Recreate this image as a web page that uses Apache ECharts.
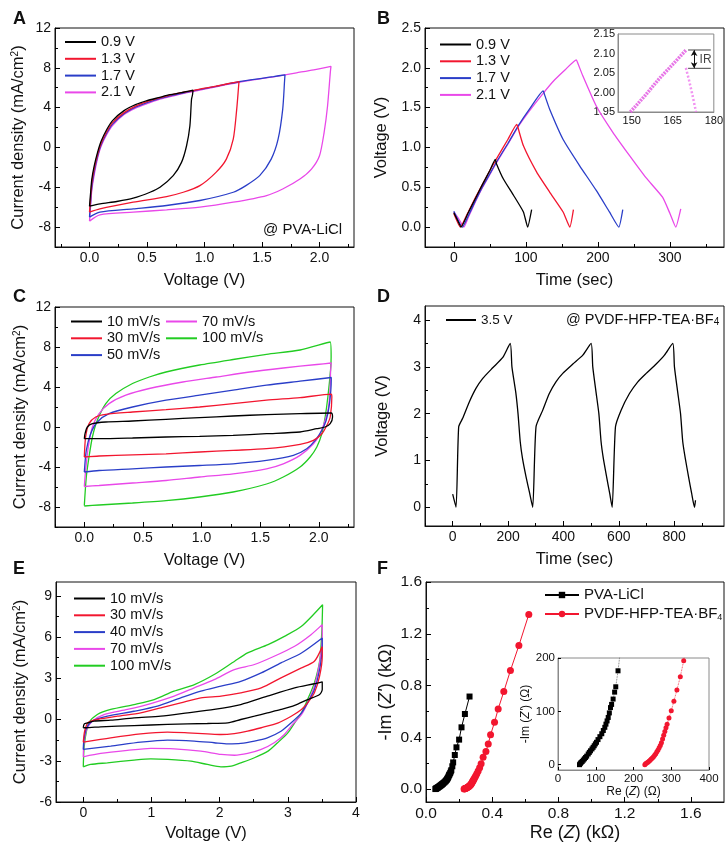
<!DOCTYPE html>
<html><head><meta charset="utf-8">
<style>html,body{margin:0;padding:0;background:#fff}#c{width:726px;height:850px}</style>
<script src="https://cdn.jsdelivr.net/npm/echarts@6/dist/echarts.min.js"></script>
</head><body><div id="c"></div>
<script>
// ---------- Panel A: CV at different voltage windows (PVA-LiCl) ----------
const aNames = ['0.9 V','1.3 V','1.7 V','2.1 V'];
const a09 = [[0,-5.9],[0.01,-4.5],[0.02,-3.2],[0.04,-1.9],[0.07,-0.5],[0.1,0.6],[0.15,1.8],[0.2,2.7],[0.3,3.7],[0.4,4.3],[0.5,4.7],[0.6,5.0],[0.7,5.3],[0.8,5.5],[0.9,5.75],
  [0.896,5.3],[0.887,4.83],[0.873,2.17],[0.844,0.17],[0.8,-1.5],[0.728,-2.83],[0.613,-4.0],[0.526,-4.5],[0.38,-5.1],[0.237,-5.43],[0.092,-5.67],[0,-5.9]];
const a13 = [[0,-6.5],[0.01,-5],[0.02,-3.6],[0.04,-2.2],[0.07,-0.7],[0.1,0.4],[0.15,1.6],[0.2,2.5],[0.3,3.5],[0.4,4.15],[0.5,4.6],[0.6,4.95],[0.7,5.25],[0.8,5.5],[0.9,5.72],[1.0,5.95],[1.1,6.15],[1.2,6.4],[1.3,6.62],
  [1.297,6.2],[1.28,3.83],[1.25,0.83],[1.19,-1.17],[1.1,-2.5],[0.96,-3.83],[0.815,-4.5],[0.67,-4.93],[0.38,-5.5],[0.09,-6.17],[0,-6.5]];
const a17 = [[0,-7.0],[0.01,-5.4],[0.02,-4],[0.04,-2.5],[0.07,-0.9],[0.1,0.25],[0.15,1.45],[0.2,2.35],[0.3,3.4],[0.4,4.05],[0.5,4.5],[0.6,4.88],[0.7,5.18],[0.8,5.44],[0.9,5.68],[1.0,5.92],[1.1,6.14],[1.2,6.38],[1.3,6.6],[1.4,6.78],[1.5,6.95],[1.6,7.12],[1.7,7.3],
  [1.697,6.83],[1.68,3.83],[1.64,0.83],[1.58,-1.17],[1.48,-2.83],[1.36,-3.83],[1.25,-4.5],[0.96,-5.33],[0.67,-5.83],[0.38,-6.17],[0.09,-6.5],[0,-7.0]];
const a21 = [[0,-7.4],[0.01,-5.8],[0.02,-4.3],[0.04,-2.8],[0.07,-1.1],[0.1,0.1],[0.15,1.3],[0.2,2.2],[0.3,3.3],[0.4,3.95],[0.5,4.4],[0.6,4.8],[0.7,5.1],[0.8,5.38],[0.9,5.62],[1.0,5.86],[1.2,6.33],[1.4,6.75],[1.6,7.1],[1.8,7.5],[1.95,7.8],[2.1,8.15],
  [2.095,7.67],[2.07,4.17],[2.04,1.5],[2.0,-0.83],[1.93,-2.17],[1.83,-3.17],[1.68,-4.17],[1.54,-4.83],[1.25,-5.5],[0.96,-6.0],[0.67,-6.27],[0.38,-6.5],[0.09,-6.77],[0,-7.4]];

// ---------- Panel B: GCD curves ----------
const b09 = [[0,0.18],[5,0.09],[10,0],[20,0.18],[30,0.36],[40,0.54],[50,0.71],[57.5,0.85],[59,0.8],[69,0.6],[82.8,0.4],[96.6,0.19],[102.5,0],[108,0.22]];
const b13 = [[0,0.17],[9,0],[20,0.19],[30,0.37],[40,0.54],[50,0.71],[60,0.87],[75,1.1],[87.4,1.29],[89,1.25],[96.6,1.02],[115,0.69],[133,0.44],[151.7,0.19],[161,0],[166,0.22]];
const b17 = [[0,0.2],[12,0],[20,0.14],[30,0.33],[40,0.51],[50,0.67],[60,0.83],[75,1.05],[90,1.28],[105,1.48],[124,1.71],[126,1.66],[133,1.48],[151.7,1.1],[174.7,0.77],[197.7,0.46],[216,0.19],[229,0],[234.5,0.22]];
const b21 = [[0,0.19],[7,0.1],[14,0],[20,0.12],[30,0.32],[40,0.5],[50,0.66],[60,0.82],[75,1.04],[90,1.27],[105,1.46],[124,1.68],[140,1.85],[155,1.98],[170,2.1],[172,2.06],[179,1.9],[197.7,1.52],[220.7,1.19],[243.7,0.9],[266.7,0.62],[289.7,0.375],[300,0.17],[308,0],[315,0.23]];
// inset (IR drop)
const bInsetCharge = [[149.5,1.95],[155,1.993],[160,2.035],[165,2.072],[170,2.11]];
const bInsetDischarge = [[169.8,2.063],[171,2.03],[172.3,1.99],[173.5,1.95]];
const irLevels = [2.109, 2.062];
const irSpan = [170.6, 178.9];
const irArrowX = 172.8;
const irLabelPos = [177.0, 2.085];

// ---------- Panel C: CV at different scan rates (PVA-LiCl) ----------
const cNames = ['10 mV/s','30 mV/s','50 mV/s','70 mV/s','100 mV/s'];
const c10 = [[0,-1.17],[0.006,-0.67],[0.026,0],[0.069,0.33],[0.183,0.5],[0.411,0.6],[0.697,0.77],[0.983,0.94],[1.269,1.1],[1.554,1.24],[1.84,1.34],[2.106,1.4],
  [2.117,1.0],[2.097,0.33],[2.054,0],[1.983,-0.17],[1.84,-0.5],[1.554,-0.67],[1.269,-0.84],[0.983,-0.94],[0.697,-1.0],[0.411,-1.1],[0.126,-1.17],[0,-1.17]];
const c30 = [[0,-3.0],[0.011,-1.0],[0.04,0.33],[0.097,1.0],[0.183,1.27],[0.411,1.5],[0.697,1.74],[0.983,2.0],[1.269,2.34],[1.554,2.68],[1.84,2.94],[2.106,3.28],
  [2.111,3.0],[2.097,1.0],[2.069,0.17],[2.026,-0.67],[1.954,-1.34],[1.84,-1.74],[1.554,-2.17],[1.269,-2.34],[0.983,-2.5],[0.697,-2.68],[0.411,-2.78],[0.126,-2.9],[0,-3.0]];
const c50 = [[0,-4.5],[0.017,-2.34],[0.054,-0.67],[0.111,0.5],[0.211,1.34],[0.411,2.0],[0.697,2.68],[0.983,3.18],[1.269,3.68],[1.554,4.18],[1.84,4.58],[2.106,4.95],
  [2.106,4.7],[2.091,2.34],[2.063,0.67],[2.026,-0.33],[1.969,-1.34],[1.897,-2.17],[1.783,-2.84],[1.554,-3.34],[1.269,-3.68],[0.983,-3.85],[0.697,-4.0],[0.411,-4.18],[0.126,-4.35],[0,-4.5]];
const c70 = [[0,-5.95],[0.011,-4.35],[0.034,-2.0],[0.069,0],[0.126,1.34],[0.211,2.34],[0.354,3.18],[0.554,3.85],[0.84,4.5],[1.126,5.0],[1.411,5.5],[1.697,5.9],[1.983,6.25],[2.106,6.4],
  [2.1,5.5],[2.097,4.0],[2.083,2.0],[2.054,0.67],[2.011,-0.67],[1.954,-1.67],[1.84,-2.84],[1.697,-3.68],[1.554,-4.18],[1.269,-4.68],[0.983,-5.0],[0.697,-5.35],[0.411,-5.6],[0.126,-5.85],[0,-5.95]];
const c100 = [[0,-7.86],[0.017,-5.0],[0.04,-3.0],[0.069,-1.0],[0.111,0.67],[0.183,2.34],[0.269,3.34],[0.411,4.35],[0.554,5.0],[0.697,5.5],[0.983,6.2],[1.269,6.75],[1.554,7.26],[1.84,7.7],[2.097,8.5],
  [2.105,7.0],[2.1,5.7],[2.077,3.0],[2.054,1.0],[2.026,-0.67],[1.983,-2.0],[1.926,-3.0],[1.84,-4.0],[1.697,-5.0],[1.554,-5.7],[1.269,-6.5],[0.983,-7.0],[0.697,-7.36],[0.411,-7.6],[0.126,-7.8],[0,-7.9]];

// ---------- Panel D: GCD at 3.5 V (PVDF-HFP-TEA·BF4) ----------
const d35 = [[0,0.28],[12,0],[21.7,1.72],[36,1.9],[60,2.25],[84,2.54],[108,2.75],[144.6,2.98],[181,3.2],[208,3.5],
  [214,3.0],[228,2.45],[236,2.0],[244,1.4],[252,1.05],[265,0.65],[278,0.3],[289,0],
  [301,1.72],[325,2.07],[349,2.43],[373,2.68],[397.6,2.86],[434,3.06],[470,3.25],[500,3.5],
  [506,3.0],[518,2.45],[528,2.0],[536,1.4],[544,1.05],[556,0.65],[567,0.3],[576,0],
  [588,1.72],[608,2.07],[638.5,2.43],[668.7,2.68],[699,2.86],[735,3.06],[765,3.25],[795,3.5],
  [801,3.0],[813,2.45],[823,2.0],[831,1.4],[840,1.05],[852,0.65],[863,0.3],[873.5,0],[877,0.15]];

// ---------- Panel E: CV at different scan rates (PVDF-HFP-TEA·BF4) ----------
const eNames = ['10 mV/s','30 mV/s','40 mV/s','70 mV/s','100 mV/s'];
const e10 = [[0,-0.6],[0.01,-0.36],[0.034,-0.29],[0.157,-0.12],[0.402,-0.05],[0.745,0.12],[1.137,0.24],[1.53,0.48],[1.92,0.73],[2.31,1.09],[2.7,1.7],[3.1,2.3],[3.39,2.6],[3.505,2.74],
  [3.505,2.18],[3.466,1.82],[3.29,1.45],[3.1,1.02],[2.9,0.73],[2.7,0.48],[2.51,0.24],[2.31,0],[2.12,-0.24],[1.82,-0.29],[1.235,-0.36],[0.745,-0.44],[0.255,-0.53],[0.034,-0.6],[0,-0.6]];
const e30 = [[0,-1.65],[0.02,-0.85],[0.069,-0.24],[0.206,0],[0.5,0.24],[0.843,0.48],[1.137,0.85],[1.43,1.21],[1.725,1.57],[2.02,1.7],[2.31,1.94],[2.61,2.3],[2.9,3.03],[3.2,3.75],[3.39,4.24],[3.505,5.3],
  [3.505,4.6],[3.466,3.15],[3.39,1.94],[3.29,1.21],[3.2,0.73],[3.05,0.24],[2.86,-0.24],[2.61,-0.6],[2.41,-0.85],[2.216,-1.02],[2.02,-1.09],[1.82,-1.04],[1.53,-0.97],[1.235,-0.92],[0.843,-1.04],[0.402,-1.33],[0,-1.65]];
const e40 = [[0,-2.18],[0.01,-1.45],[0.049,-0.6],[0.132,-0.12],[0.353,0.24],[0.745,0.6],[1.088,0.97],[1.43,1.57],[1.725,2.06],[2.02,2.42],[2.31,2.78],[2.61,3.39],[2.9,4.12],[3.2,4.84],[3.505,5.93],
  [3.505,5.33],[3.466,3.63],[3.39,2.18],[3.29,1.21],[3.2,0.48],[3.05,-0.24],[2.9,-0.85],[2.7,-1.33],[2.51,-1.57],[2.31,-1.74],[2.12,-1.77],[1.92,-1.69],[1.627,-1.57],[1.235,-1.5],[0.843,-1.65],[0.402,-1.94],[0,-2.18]];
const e70 = [[0,-2.71],[0.01,-1.7],[0.049,-0.73],[0.132,-0.12],[0.304,0.36],[0.647,0.73],[0.99,1.16],[1.333,1.7],[1.627,2.3],[1.92,2.9],[2.216,3.63],[2.51,4.0],[2.8,4.6],[3.1,5.33],[3.34,6.17],[3.505,6.9],
  [3.505,6.05],[3.466,4.12],[3.39,2.42],[3.29,1.21],[3.2,0.36],[3.07,-0.36],[2.95,-1.09],[2.8,-1.69],[2.61,-2.18],[2.41,-2.47],[2.216,-2.6],[2.02,-2.54],[1.725,-2.3],[1.333,-2.13],[0.99,-2.1],[0.647,-2.25],[0.255,-2.47],[0,-2.71]];
const e100 = [[0,-3.44],[0.01,-2.18],[0.034,-1.2],[0.083,-0.24],[0.206,0.36],[0.402,0.73],[0.745,1.09],[1.04,1.45],[1.33,2.06],[1.63,2.54],[1.92,3.27],[2.22,4.24],[2.41,4.84],[2.71,5.45],[2.95,6.05],[3.2,6.78],[3.51,8.35],
  [3.5,6.54],[3.47,4.36],[3.39,2.66],[3.29,1.45],[3.2,0.48],[3.1,-0.24],[3.0,-0.97],[2.85,-1.69],[2.71,-2.3],[2.51,-2.78],[2.31,-3.15],[2.17,-3.39],[2.02,-3.44],[1.82,-3.27],[1.58,-3.03],[1.24,-2.9],[0.99,-2.86],[0.745,-2.95],[0.353,-3.15],[0.108,-3.27],[0,-3.44]];

// ---------- Panel F: Nyquist plots ----------
const fNames = ['PVA-LiCl','PVDF-HFP-TEA·BF4'];
// low-frequency region (Ohm)
const fBlackLowOhm = [[57,0],[59,2],[61,4],[64,6],[67,8.5],[70,11],[73,13.5],[76,16],[80,20],[83,23],[86,26],[90,29.5],[93,32.5],[96,35.5],[99,39],[102,42],[106,47],[111,52.5],[116,58],[120,64],[124,70],[127,76],[130,82],[133,88.5],[136,97],[139,107],[142,113],[146,123],[150,136],[153,146],[159,176]];
const fRedLowOhm = [[230,0],[232,1.5],[235,3],[238,4.5],[241,6.5],[244,8.5],[247,10.5],[250,12.5],[253,15],[256,17.5],[259,20.5],[262,24],[265,27.5],[268,31.5],[271,36],[274,41],[277,48],[280,55],[283,62],[286,69],[289,76],[294,87.5],[300,101],[307,119],[315,140],[324,165],[333,195]];
// high values (kOhm)
const fBlackHigh = [[0.164,0.206],[0.174,0.263],[0.184,0.3225],[0.2,0.382],[0.2145,0.477],[0.235,0.58],[0.263,0.715]];
const fRedHigh = [[0.345,0.245],[0.362,0.29],[0.376,0.348],[0.39,0.42],[0.414,0.516],[0.436,0.619],[0.47,0.753],[0.51,0.916],[0.561,1.109],[0.621,1.349]];

// ---------- tick labels ----------
const tA = {x:[0,0.5,1,1.5,2], xm:[-0.25,0.25,0.75,1.25,1.75,2.25], y:[-8,-4,0,4,8,12], ym:[-10,-6,-2,2,6,10]};
const tB = {x:[0,100,200,300], xm:[50,150,250,350], y:[0,0.5,1,1.5,2,2.5], ym:[-0.25,0.25,0.75,1.25,1.75,2.25]};
const tBi = {x:[150,165,180], y:[1.95,2.00,2.05,2.10,2.15]};
const tD = {x:[0,200,400,600,800], xm:[-100,100,300,500,700,900], y:[0,1,2,3,4], ym:[0.5,1.5,2.5,3.5]};
const tE = {x:[0,1,2,3,4], xm:[0.5,1.5,2.5,3.5], y:[-6,-3,0,3,6,9], ym:[-4.5,-1.5,1.5,4.5,7.5]};
const tF = {x:[0,0.4,0.8,1.2,1.6], xm:[0.2,0.6,1.0,1.4], y:[0,0.4,0.8,1.2,1.6], ym:[0.2,0.6,1.0,1.4]};
const tFi = {x:[0,100,200,300,400], y:[0,100,200]};

// ---------- build ----------
const FONT = "'Liberation Sans', Arial, Helvetica, sans-serif";
const K='#000000', R='#f2162f', B='#2a3ec8', M='#e948e9', G='#22cc22';
const grid=[], xAxis=[], yAxis=[], series=[], legend=[], graphic=[];
const f1 = v => v.toFixed(1), f2 = v => v.toFixed(2), f0 = v => String(v);
const supRich = {sup:{fontSize:10, verticalAlign:'top', fontFamily:FONT, color:'#111', padding:[0,0,6,0]},
                 sub:{fontSize:10, verticalAlign:'bottom', fontFamily:FONT, color:'#111', padding:[6,0,0,0]},
                 i:{fontStyle:'italic', fontFamily:FONT, color:'#111'}};

function panel(o){
  const gi = grid.length;
  const fc = o.frame || '#111';
  grid.push({left:o.rect[0], top:o.rect[1], width:o.rect[2], height:o.rect[3], show:true, borderColor:fc, borderWidth:1, backgroundColor:o.bg||'transparent'});
  const xi = xAxis.length, yi = yAxis.length;
  const nts = Object.assign({fontSize:o.nfs, fontFamily:FONT, color:'#111'}, {rich: Object.fromEntries(Object.entries(supRich).map(([k,v])=>[k,Object.assign({},v,k==='i'?{fontSize:o.nfs}:{})]))});
  xAxis.push({gridIndex:gi, type:'value', min:o.x[0], max:o.x[1],
    axisLine:{show:true, onZero:false, lineStyle:{color:fc, width:1}},
    axisTick:{show:o.tl>0, inside:true, length:o.tl, customValues:o.xt, lineStyle:{color:'#000', width:1}},
    axisLabel:{customValues:o.xt, formatter:o.xf, fontSize:o.fs, fontFamily:FONT, color:'#111', margin:o.xmar ?? 4},
    splitLine:{show:false}, name:o.xn, nameLocation:'middle', nameGap:o.xg, nameTextStyle:nts});
  yAxis.push({gridIndex:gi, type:'value', min:o.y[0], max:o.y[1],
    axisLine:{show:true, onZero:false, lineStyle:{color:fc, width:1}},
    axisTick:{show:o.tl>0, inside:true, length:o.tl, customValues:o.yt, lineStyle:{color:'#000', width:1}},
    axisLabel:{customValues:o.yt, formatter:o.yf, fontSize:o.fs, fontFamily:FONT, color:'#111', margin:o.ymar ?? 4},
    splitLine:{show:false}, name:o.yn, nameLocation:'middle', nameRotate:90, nameGap:o.yg, nameTextStyle:nts});
  if (o.xm || o.ym) {
    const g2 = grid.length;
    grid.push({left:o.rect[0], top:o.rect[1], width:o.rect[2], height:o.rect[3], show:false});
    xAxis.push({gridIndex:g2, type:'value', min:o.x[0], max:o.x[1], position:'bottom', axisLine:{show:false, onZero:false},
      axisTick:{show:!!o.xm, inside:true, length:3, customValues:o.xm||[], lineStyle:{color:'#000', width:1}},
      axisLabel:{show:false}, splitLine:{show:false}});
    yAxis.push({gridIndex:g2, type:'value', min:o.y[0], max:o.y[1], position:'left', axisLine:{show:false, onZero:false},
      axisTick:{show:!!o.ym, inside:true, length:3, customValues:o.ym||[], lineStyle:{color:'#000', width:1}},
      axisLabel:{show:false}, splitLine:{show:false}});
  }
  return {xi, yi};
}
function line(name, data, ax, color, extra){
  series.push(Object.assign({type:'line', name, data, xAxisIndex:ax.xi, yAxisIndex:ax.yi, symbol:'none', smooth:0.25,
    lineStyle:{color, width:1.3}, itemStyle:{color}, animation:false, z:5}, extra||{}));
}
function lg(data, left, top, extra){
  legend.push(Object.assign({data, orient:'vertical', left, top, icon:'rect', itemWidth:31, itemHeight:2, itemGap:1.8, selectedMode:false,
    textStyle:{fontSize:14.5, fontFamily:FONT, color:'#111'}}, extra||{}));
}
function txt(text, left, top, size, weight, rich){
  graphic.push({type:'text', left, top, z:10, style:{text, fontSize:size, fontWeight:weight||'normal', fontFamily:FONT, fill:'#111', rich:rich||supRich}});
}

const cdName = 'Current density (mA/cm{sup|2})';

// A
const pA = panel({rect:[55,28,299,219], x:[-0.3,2.3], y:[-10,12], xt:tA.x, yt:tA.y, xm:tA.xm, ym:tA.ym, xf:f1, yf:f0, fs:14, nfs:16.5, tl:5,
  xn:'Voltage (V)', xg:25, yn:cdName, yg:28});
line(aNames[3], a21, pA, M); line(aNames[2], a17, pA, B); line(aNames[1], a13, pA, R); line(aNames[0], a09, pA, K);
lg(aNames, 60, 29.5);
txt('@ PVA-LiCl', 263, 222, 15);
txt('A', 13, 10, 18, 'bold');

// B
const pB = panel({rect:[425,28,299,219], x:[-40,375], y:[-0.25,2.5], xt:tB.x, yt:tB.y, xm:tB.xm, ym:tB.ym, xf:f0, yf:f1, fs:14, nfs:16.5, tl:5,
  xn:'Time (sec)', xg:25, yn:'Voltage (V)', yg:35});
line(aNames[3], b21, pB, M, {smooth:0.15}); line(aNames[2], b17, pB, B, {smooth:0.15}); line(aNames[1], b13, pB, R, {smooth:0.15}); line(aNames[0], b09, pB, K, {smooth:0.15});
lg(aNames, 435, 32);
txt('B', 377, 10, 18, 'bold');
// B inset
const pBi = panel({rect:[618,34,96,78], x:[145,180], y:[1.95,2.15], xt:tBi.x, yt:tBi.y, xf:f0, yf:f2, fs:11, nfs:11, tl:0, frame:'#8a8a8a',
  xn:'', xg:10, yn:'', yg:10, xmar:3, ymar:3});
line('inset charge', bInsetCharge, pBi, '#e35ee3', {smooth:false, lineStyle:{color:'#e35ee3', width:3.5, type:[2,1], opacity:0.85}});
line('inset discharge', bInsetDischarge, pBi, '#ee8aee', {smooth:false, lineStyle:{color:'#ee80ee', width:2.5, type:[2,2], opacity:0.85}});
line('IR top', [[irSpan[0], irLevels[0]],[irSpan[1], irLevels[0]]], pBi, '#444', {smooth:false, lineStyle:{color:'#444', width:1}});
line('IR bottom', [[irSpan[0], irLevels[1]],[irSpan[1], irLevels[1]]], pBi, '#444', {smooth:false, lineStyle:{color:'#444', width:1},
  markLine:{silent:true, symbol:['arrow','arrow'], symbolSize:[5,6], label:{show:false}, lineStyle:{color:'#111', width:1, type:'solid'},
    data:[[{coord:[irArrowX, irLevels[0]]},{coord:[irArrowX, irLevels[1]]}]]}});
series.push({type:'scatter', name:'IR label', xAxisIndex:pBi.xi, yAxisIndex:pBi.yi, data:[irLabelPos], symbolSize:0,
  label:{show:true, formatter:'IR', position:'inside', fontSize:12, fontFamily:FONT, color:'#111'}, animation:false, z:6});

// C
const pC = panel({rect:[55,307,299,220], x:[-0.25,2.3], y:[-10,12], xt:tA.x, yt:tA.y, xm:tA.xm, ym:tA.ym, xf:f1, yf:f0, fs:14, nfs:16.5, tl:5,
  xn:'Voltage (V)', xg:25, yn:cdName, yg:26});
line(cNames[4], c100, pC, G); line(cNames[3], c70, pC, M); line(cNames[2], c50, pC, B); line(cNames[1], c30, pC, R); line(cNames[0], c10, pC, K);
lg(cNames.slice(0,3), 66, 309);
lg(cNames.slice(3), 161, 309);
txt('C', 13, 288, 18, 'bold');

// D
const pD = panel({rect:[425,306,299,220], x:[-100,980], y:[-0.4,4.3], xt:tD.x, yt:tD.y, xm:tD.xm, ym:tD.ym, xf:f0, yf:f0, fs:14, nfs:16.5, tl:5,
  xn:'Time (sec)', xg:25, yn:'Voltage (V)', yg:34});
line('3.5 V', d35, pD, K, {smooth:0.2});
lg(['3.5 V'], 441, 308, {itemWidth:30, textStyle:{fontSize:13.5, fontFamily:FONT, color:'#111'}});
txt('@ PVDF-HFP-TEA·BF{sub|4}', 566, 312, 14.5);
txt('D', 377, 288, 18, 'bold');

// E
const pE = panel({rect:[56,582,300,220], x:[-0.4,4], y:[-6,10], xt:tE.x, yt:tE.y, xm:tE.xm, ym:tE.ym, xf:f0, yf:f0, fs:14, nfs:16.5, tl:5,
  xn:'Voltage (V)', xg:23, yn:cdName, yg:27});
line(eNames[4], e100, pE, G); line(eNames[3], e70, pE, M); line(eNames[2], e40, pE, B); line(eNames[1], e30, pE, R); line(eNames[0], e10, pE, K);
lg(eNames, 69, 586);
txt('E', 13, 560, 18, 'bold');

// F
const pF = panel({rect:[426,582,298,220], x:[0,1.8], y:[-0.1,1.6], xt:tF.x, yt:tF.y, xm:tF.xm, ym:tF.ym, xf:f1, yf:f1, fs:15.5, nfs:18, tl:5,
  xn:'Re ({i|Z}) (kΩ)', xg:22, yn:"-Im ({i|Z'}) (kΩ)", yg:31});
const fBlackMain = fBlackLowOhm.map(p => [p[0]/1000, p[1]/1000]).concat(fBlackHigh);
const fRedMain = fRedLowOhm.map(p => [p[0]/1000, p[1]/1000]).concat(fRedHigh);
line(fNames[0], fBlackMain, pF, K, {smooth:false, symbol:'rect', symbolSize:6, showSymbol:true, lineStyle:{color:K, width:1}});
line(fNames[1], fRedMain, pF, R, {smooth:false, symbol:'circle', symbolSize:7, showSymbol:true, lineStyle:{color:R, width:1}});
legend.push({data:fNames, orient:'vertical', left:539, top:582.5, itemWidth:34, itemHeight:8, itemGap:4, selectedMode:false,
  formatter: n => n === fNames[1] ? 'PVDF-HFP-TEA·BF{sub|4}' : n,
  textStyle:{fontSize:15, fontFamily:FONT, color:'#111', rich:{sub:{fontSize:9, verticalAlign:'bottom', fontFamily:FONT, color:'#111', padding:[7,0,0,0]}}}});
txt('F', 377, 560, 18, 'bold');
// F inset
const pFi = panel({rect:[558,658,151,112], x:[0,400], y:[-10,200], xt:tFi.x, yt:tFi.y, xf:f0, yf:f0, fs:11.5, nfs:12, tl:3, frame:'#8a8a8a',
  xn:'Re ({i|Z}) (Ω)', xg:15, yn:"-Im ({i|Z'}) (Ω)", yg:17, xmar:3, ymar:3});
const fBlackIn = fBlackLowOhm.concat(fBlackHigh.slice(0,2).map(p => [p[0]*1000, p[1]*1000]));
const fRedIn = fRedLowOhm.concat(fRedHigh.slice(0,2).map(p => [p[0]*1000, p[1]*1000]));
line('inset black', fBlackIn, pFi, K, {smooth:false, symbol:'rect', symbolSize:5, showSymbol:true, lineStyle:{color:'#555', width:0.8, type:'dotted'}});
line('inset red', fRedIn, pFi, R, {smooth:false, symbol:'circle', symbolSize:5, showSymbol:true, lineStyle:{color:R, width:0.8, type:'dotted'}});

const chart = echarts.init(document.getElementById('c'), null, {renderer:'canvas', width:726, height:850});
chart.setOption({animation:false, backgroundColor:'#ffffff', textStyle:{fontFamily:FONT}, grid, xAxis, yAxis, series, legend, graphic});
</script></body></html>
